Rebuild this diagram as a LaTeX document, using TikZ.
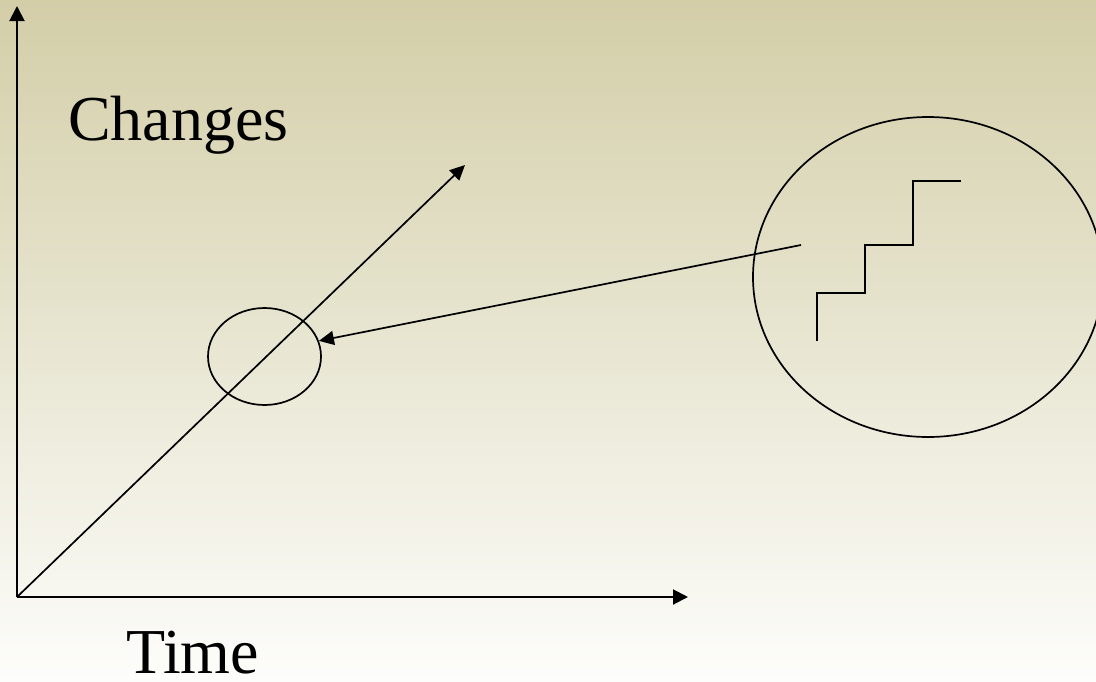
\documentclass[tikz,border=0pt]{standalone}
\usepackage{fontspec}
\setmainfont{Liberation Serif}
\usetikzlibrary{arrows.meta,shapes.geometric}
\definecolor{bgtop}{RGB}{211,206,168}
\definecolor{bgbot}{RGB}{253,253,251}
\tikzset{
  axis/.style={line width=2pt,-{Triangle[length=15pt,width=15pt]}},
  thinarrow/.style={line width=1.7pt,-{Triangle[length=15pt,width=14pt]}},
  oval/.style={draw,ellipse,line width=1.7pt,inner sep=0pt},
  lbl/.style={anchor=base west,inner sep=0pt,font=\fontsize{64}{70}\selectfont},
}
\begin{document}
\begin{tikzpicture}[x=1pt,y=-1pt]
\shade[top color=bgtop,bottom color=bgbot] (0,0) rectangle (1096,681);
\useasboundingbox (0,0) rectangle (1096,681);
% axes
\coordinate (O) at (17,597);
\coordinate (ytip) at (17,6);
\coordinate (xtip) at (688,597);
\coordinate (dtip) at (465,165);
\draw[axis] (O) -- (ytip);
\draw[axis] (O) -- (xtip);
\draw[thinarrow] (O) -- (dtip);
% labels
\node[lbl] (changes) at (68,140) {Changes};
\node[lbl] (time) at (126,673) {Time};
% ellipses
\node[oval,minimum width=113pt,minimum height=97pt] (small) at (264.5,356.5) {};
\node[oval,minimum width=350pt,minimum height=320pt] (big) at (928,277) {};
% staircase
\coordinate (s0) at (817,341);
\coordinate (s1) at (961,181);
\draw[line width=1.8pt] (s0) |- (865,293) |- (913,245) |- (s1);
% connector
\coordinate (src) at (801,245);
\draw[thinarrow] (src) -- (small.16);
\end{tikzpicture}
\end{document}
